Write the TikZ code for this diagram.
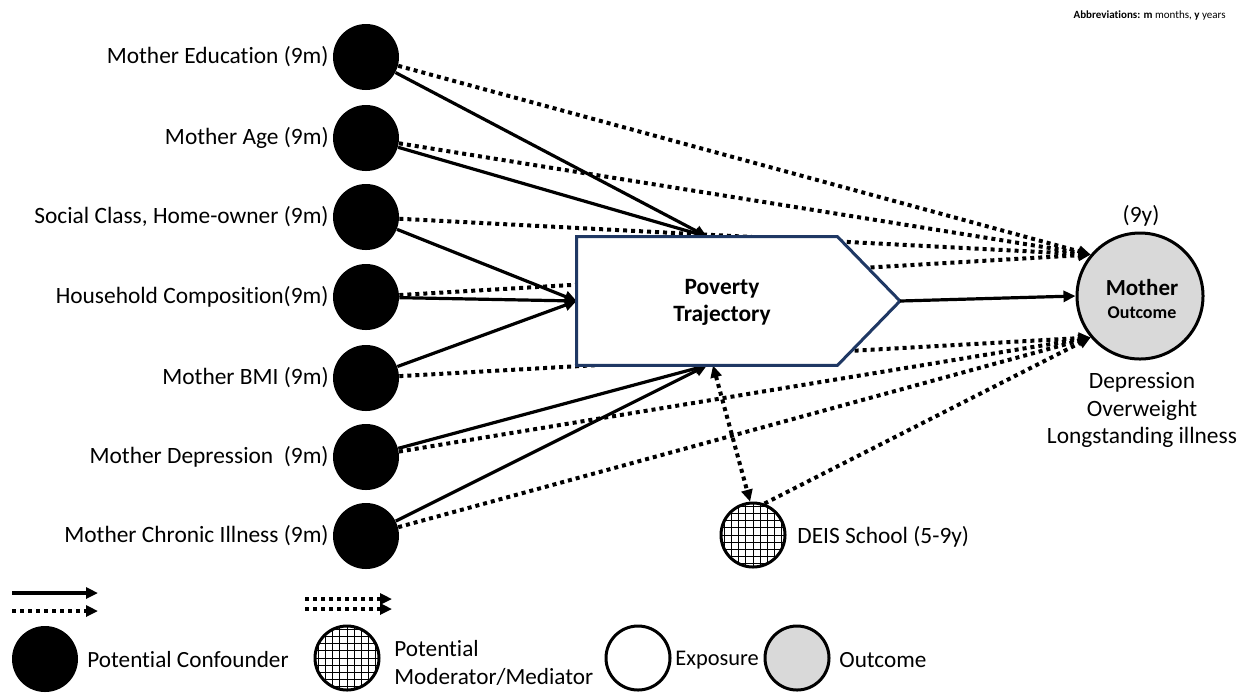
\documentclass[tikz,border=0pt]{standalone}
\usepackage{fontspec}
\setmainfont{Carlito}[Ligatures=NoCommon]
\usetikzlibrary{arrows.meta,calc}
\definecolor{navy}{RGB}{31,56,100}
\definecolor{outgray}{RGB}{217,217,217}
\begin{document}
\begin{tikzpicture}[x=0.5pt,y=-0.5pt,
  conf/.style={circle,fill=black,minimum size=33pt,inner sep=0pt},
  lbl/.style={font=\fontsize{11.7}{14}\selectfont,anchor=east,inner sep=0pt},
  txt/.style={font=\fontsize{11.7}{14}\selectfont,inner sep=0pt},
  legtxt/.style={font=\fontsize{11.6}{14}\selectfont,inner sep=0pt,anchor=west},
  sarr/.style={line width=1.6pt,-{Triangle[length=6pt,width=5.5pt]}},
  darr/.style={line width=2pt,dash pattern=on 2pt off 2pt,-{Triangle[length=6pt,width=5.5pt]}},
  ddarr/.style={line width=2pt,dash pattern=on 2pt off 2pt,{Triangle[length=6pt,width=5.5pt]}-{Triangle[length=6pt,width=5.5pt]}},
  hatchc/.style={circle,draw=black,line width=1.5pt,fill=white,minimum size=32pt,inner sep=0pt,
    path picture={\draw[line width=0.5pt] ([shift={(-3pt,-3pt)}]path picture bounding box.south west) grid[step=3.6pt] ([shift={(3pt,3pt)}]path picture bounding box.north east);}},
  ringc/.style={circle,draw=black,line width=1.5pt,minimum size=32pt,inner sep=0pt}
]
\useasboundingbox (0,0) rectangle (1240,693);

% abbreviations
\node[anchor=east,inner sep=0pt,font=\fontsize{5.5}{7}\selectfont] (abbr) at (1226,16) {\textbf{Abbreviations: m} months, \textbf{y} years};

% confounders
\node[conf] (c1) at (366,57) {};
\node[conf] (c2) at (366,138) {};
\node[conf] (c3) at (366,217) {};
\node[conf] (c4) at (366,297) {};
\node[conf] (c5) at (366,378) {};
\node[conf] (c6) at (366,457) {};
\node[conf] (c7) at (366,536) {};
\node[lbl] (t1) at (329,57) {Mother Education (9m)};
\node[lbl] (t2) at (329,138) {Mother Age (9m)};
\node[lbl] (t3) at (329,217) {Social Class, Home-owner (9m)};
\node[lbl] (t4) at (329,297) {Household Composition(9m)};
\node[lbl] (t5) at (329,378) {Mother BMI (9m)};
\node[lbl] (t6) at (329,457) {Mother Depression~~(9m)};
\node[lbl] (t7) at (329,536) {Mother Chronic Illness (9m)};

% exposure (invisible anchor node) and tip
\node[minimum width=130pt,minimum height=64pt,inner sep=0pt] (pov) at (707,301) {};
\coordinate (tip) at (900,301);

% outcome
\node[circle,draw=black,line width=1.5pt,fill=outgray,minimum size=63pt,inner sep=0pt] (out) at (1140,296) {};
\node[font=\bfseries\fontsize{11.5}{14}\selectfont,inner sep=0pt] (om) at (1142,288) {Mother};
\node[font=\bfseries\fontsize{9}{11}\selectfont,inner sep=0pt] (oo) at (1142,313) {Outcome};
\node[txt] (o9) at (1141,216) {(9y)};
\node[txt,align=center,font=\fontsize{11.7}{13.6}\selectfont] (olist) at (1142,410) {Depression\\Overweight\\Longstanding illness};

% moderator
\node[hatchc] (deis) at (753,535) {};
\node[txt,anchor=west] (deist) at (797,537) {DEIS School (5-9y)};

% dotted paths to outcome
\draw[darr] (c1) -- (out.140);
\draw[darr] (c2) -- (out.140);
\draw[darr] (c3) -- (out.140);
\draw[darr] (c4) -- (out.140);
\draw[darr] (c5) -- (out.220);
\draw[darr] (c6) -- (out.220);
\draw[darr] (c7) -- (out.220);
\draw[darr] (deis.70) -- (out.220);
\draw[ddarr] ([xshift=3pt]pov.south) -- (deis.95);

% solid paths to exposure
\draw[sarr] (c1) -- (pov.north);
\draw[sarr] (c2) -- (pov.north);
\draw[sarr] (c3) -- (pov.west);
\draw[sarr] (c4) -- (pov.west);
\draw[sarr] (c5) -- (pov.west);
\draw[sarr] (c6) -- (pov.south);
\draw[sarr] (c7) -- (pov.south);

% exposure box
\draw[navy,line width=1.5pt,fill=white,line join=miter] (pov.north west) -- (pov.north east) -- (tip) -- (pov.south east) -- (pov.south west) -- cycle;
\node[font=\bfseries\fontsize{11.7}{13.5}\selectfont,align=center,inner sep=0pt] (povt) at (722,302) {Poverty\\Trajectory};

\draw[sarr] (tip) -- (out.west);

% legend
\coordinate (la1) at (12,593);  \coordinate (lb1) at (98,593);
\coordinate (la2) at (12,611);  \coordinate (lb2) at (98,611);
\coordinate (la3) at (305,599); \coordinate (lb3) at (392,599);
\coordinate (la4) at (305,609); \coordinate (lb4) at (392,609);
\draw[sarr] (la1) -- (lb1);
\draw[darr] (la2) -- (lb2);
\draw[darr] (la3) -- (lb3);
\draw[darr] (la4) -- (lb4);

\node[conf] (lc) at (45,659) {};
\node[legtxt] (lct) at (87,660) {Potential Confounder};
\node[hatchc] (lh) at (347,658) {};
\node[legtxt,align=left,font=\fontsize{11.6}{14}\selectfont] (lht) at (394,663) {Potential\\Moderator/Mediator};
\node[ringc,fill=white] (le) at (638,658) {};
\node[legtxt,font=\fontsize{11.2}{14}\selectfont] (let) at (675,660) {Exposure};
\node[ringc,fill=outgray] (lo) at (797,658) {};
\node[legtxt] (lot) at (839,660) {Outcome};
\end{tikzpicture}
\end{document}
